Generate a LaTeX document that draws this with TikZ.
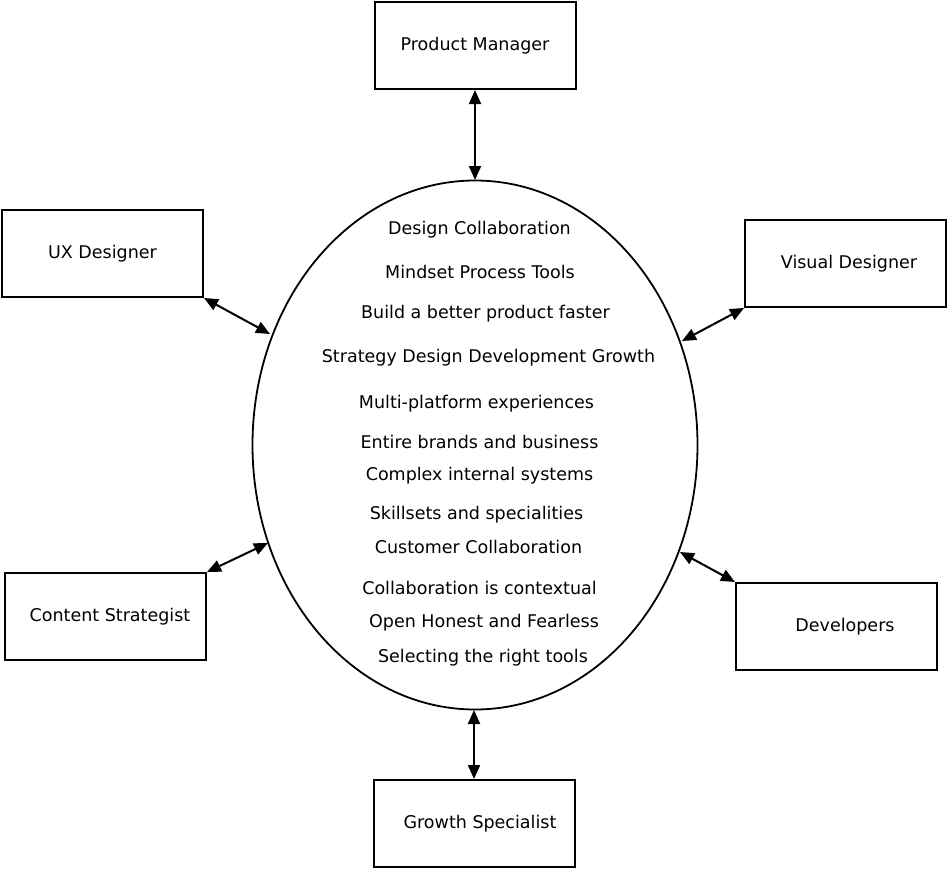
\documentclass[tikz,border=0pt]{standalone}
\usepackage{fontspec}
\setmainfont{DejaVu Sans}
\usetikzlibrary{arrows.meta,shapes.geometric}

\begin{document}
\begin{tikzpicture}[
  x=1pt, y=-1pt,
  >={Triangle[length=14pt, width=12pt]},
  role/.style={draw, line width=2pt, minimum width=201pt, minimum height=87pt, inner sep=0pt, font=\fontsize{17.5}{20}\selectfont},
  hub/.style={draw, line width=1.8pt, ellipse, minimum width=445pt, minimum height=529pt, inner sep=0pt},
  item/.style={font=\fontsize{17.5}{20}\selectfont, inner sep=0pt},
  link/.style={<->, line width=2pt},
]
  \useasboundingbox (0,0) rectangle (948,870);

  % ---------------- central ellipse and its lines
  \node[hub] (core) at (475,445) {};
  \foreach \i/\x/\y/\t in {1/479.5/230/Design Collaboration, 2/480/272/Mindset Process Tools,
      3/485.5/314/Build a better product faster, 4/488.5/358/Strategy Design Development Growth,
      5/476.5/404/Multi-platform experiences, 6/479.5/442/Entire brands and business,
      7/479.5/476/Complex internal systems, 8/476.5/515/Skillsets and specialities,
      9/478.5/547/Customer Collaboration, 10/479.5/588/Collaboration is contextual,
      11/484/623/Open Honest and Fearless, 12/483/658/Selecting the right tools}
    \node[item] (t\i) at (\x,\y) {\t};

  % ---------------- roles
  \node[role] (pm) at (475,45.5) {Product Manager};
  \node[role] (ux) at (102.5,253.5) {UX Designer};
  \node[role] (vd) at (845.5,263.5) {\hspace*{7pt}Visual Designer};
  \node[role] (cs) at (105.5,616.5) {\hspace*{9pt}Content Strategist};
  \node[role] (dev) at (836.5,626.5) {\hspace*{17pt}Developers};
  \node[role] (gs) at (474,823.5) {\hspace*{12pt}Growth Specialist};

  % ---------------- connectors
  \coordinate (e1) at (475,180);
  \coordinate (e2) at (270,334);
  \coordinate (e3) at (682,341);
  \coordinate (e4) at (268,543);
  \coordinate (e5) at (680,552);
  \coordinate (e6) at (474,710);
  \draw[link] (pm.south) -- (e1);
  \draw[link] (ux.south east) -- (e2);
  \draw[link] (vd.south west) -- (e3);
  \draw[link] (cs.north east) -- (e4);
  \draw[link] (dev.north west) -- (e5);
  \draw[link] (gs.north) -- (e6);
\end{tikzpicture}
\end{document}
